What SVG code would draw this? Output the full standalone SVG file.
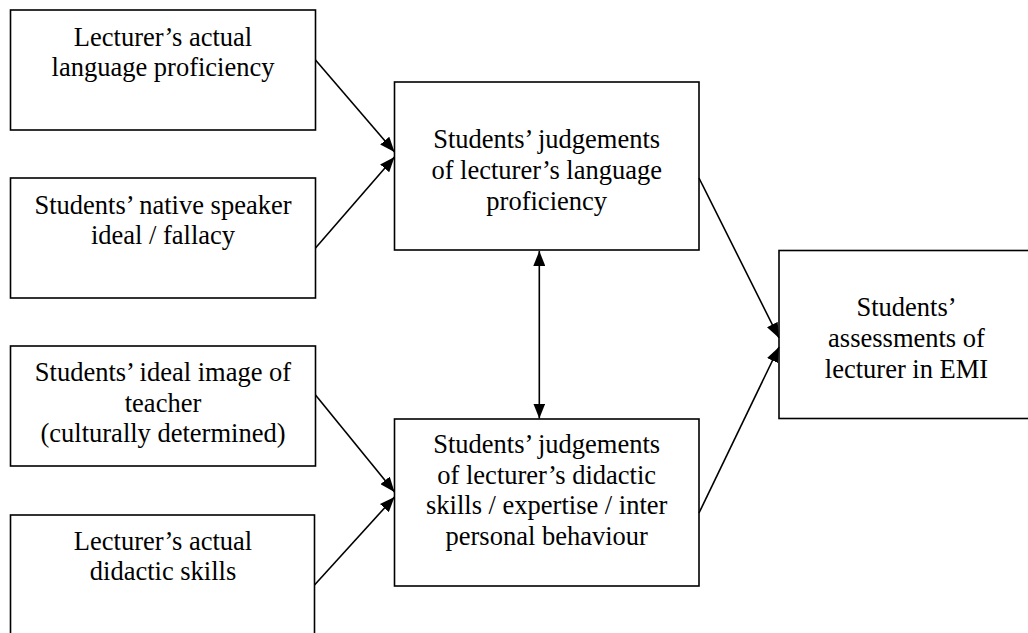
<svg xmlns="http://www.w3.org/2000/svg" width="1028" height="633" viewBox="0 0 1028 633">
<style>
.box{fill:#fff;stroke:#000;stroke-width:1.6}
.t{font-family:"Liberation Serif","Times New Roman",serif;font-size:26.5px;fill:#000;text-anchor:middle}
.c{stroke:#000;stroke-width:1.6;fill:none;marker-end:url(#ah)}
.d{stroke:#000;stroke-width:1.6;fill:none;marker-end:url(#ah);marker-start:url(#ah)}
</style>
<defs>
<marker id="ah" markerUnits="userSpaceOnUse" markerWidth="15" markerHeight="12" refX="15" refY="6" orient="auto-start-reverse">
<path d="M0,0 L15,6 L0,12 z" fill="#000"/>
</marker>
</defs>
<rect x="0" y="0" width="1028" height="633" fill="#fff"/>
<g id="n1"><rect class="box" x="10.5" y="10" width="305" height="120"/>
<text class="t" x="163" y="46">Lecturer’s actual</text>
<text class="t" x="163" y="76">language proficiency</text></g>
<g id="n2"><rect class="box" x="10.5" y="178" width="305" height="120"/>
<text class="t" x="163" y="213.5">Students’ native speaker</text>
<text class="t" x="163" y="244">ideal / fallacy</text></g>
<g id="n3"><rect class="box" x="10.5" y="346" width="305" height="120"/>
<text class="t" x="163" y="381">Students’ ideal image of</text>
<text class="t" x="163" y="411.5">teacher</text>
<text class="t" x="163" y="441.5">(culturally determined)</text></g>
<g id="n4"><rect class="box" x="10.5" y="515" width="304" height="125"/>
<text class="t" x="163" y="549.5">Lecturer’s actual</text>
<text class="t" x="163" y="580">didactic skills</text></g>
<g id="n5"><rect class="box" x="394.5" y="82" width="304.5" height="168"/>
<text class="t" x="546.7" y="148">Students’ judgements</text>
<text class="t" x="546.7" y="179">of lecturer’s language</text>
<text class="t" x="546.7" y="210">proficiency</text></g>
<g id="n6"><rect class="box" x="394.5" y="419" width="304.5" height="167"/>
<text class="t" x="546.7" y="453">Students’ judgements</text>
<text class="t" x="546.7" y="483.5">of lecturer’s didactic</text>
<text class="t" x="546.7" y="514">skills / expertise / inter</text>
<text class="t" x="546.7" y="545">personal behaviour</text></g>
<g id="n7"><rect class="box" x="779" y="250.5" width="256" height="168"/>
<text class="t" x="906.5" y="316">Students’</text>
<text class="t" x="906.5" y="347">assessments of</text>
<text class="t" x="906.5" y="378">lecturer in EMI</text></g>
<g id="connectors">
<line class="c" x1="315.5" y1="60" x2="394.5" y2="152"/>
<line class="c" x1="315.5" y1="248" x2="394.5" y2="157"/>
<line class="c" x1="315.5" y1="395" x2="394.5" y2="492"/>
<line class="c" x1="314.5" y1="585" x2="394.5" y2="497"/>
<line class="c" x1="699" y1="178" x2="779" y2="338"/>
<line class="c" x1="699" y1="513" x2="779" y2="347"/>
<line class="d" x1="539.3" y1="251" x2="539.3" y2="418.5"/>
</g>
</svg>
